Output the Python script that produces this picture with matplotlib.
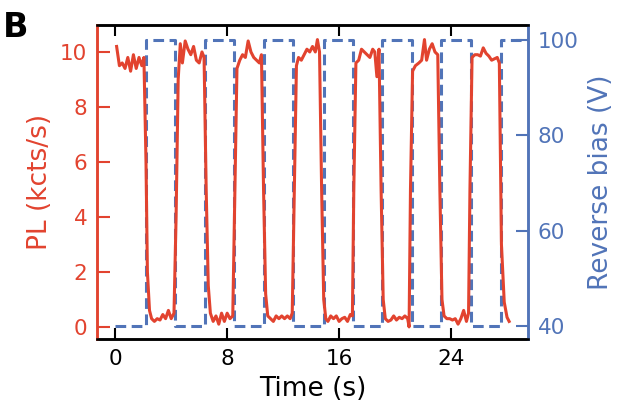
import matplotlib
matplotlib.use("Agg")
import matplotlib.pyplot as plt

RED = "#e2432f"
BLUE = "#5174b8"

# PL trace (kcts/s)
time_s = [
    0.1, 0.3, 0.5, 0.7, 0.9, 1.1, 1.3, 1.5, 1.7, 1.9, 2.05, 2.2, 2.3, 2.45, 2.6,
    2.8, 3.0, 3.2, 3.4, 3.6, 3.8, 4.0, 4.2, 4.35, 4.5, 4.65,
    4.8, 5.0, 5.2, 5.4, 5.6, 5.8, 6.0, 6.2, 6.35, 6.5, 6.65, 6.8,
    7.0, 7.2, 7.4, 7.6, 7.8, 8.0, 8.2, 8.4, 8.55, 8.7,
    8.9, 9.1, 9.3, 9.5, 9.7, 9.9, 10.1, 10.3, 10.45, 10.6, 10.75, 10.9,
    11.1, 11.3, 11.5, 11.7, 11.9, 12.1, 12.3, 12.5, 12.65, 12.8, 12.95,
    13.1, 13.3, 13.5, 13.7, 13.9, 14.1, 14.3, 14.45, 14.6, 14.75, 14.9, 15.05,
    15.2, 15.4, 15.6, 15.8, 16.0, 16.2, 16.4, 16.6, 16.8, 16.95, 17.05, 17.2,
    17.4, 17.6, 17.8, 18.0, 18.2, 18.4, 18.55, 18.7, 18.85, 19.0, 19.15, 19.3,
    19.5, 19.7, 19.9, 20.1, 20.3, 20.5, 20.7, 20.9, 21.0, 21.1, 21.25,
    21.45, 21.7, 21.9, 22.1, 22.25, 22.45, 22.65, 22.85, 23.05, 23.2, 23.35, 23.5,
    23.7, 23.9, 24.1, 24.3, 24.5, 24.7, 24.9, 25.1, 25.25, 25.35, 25.5,
    25.7, 25.9, 26.1, 26.3, 26.5, 26.7, 26.9, 27.1, 27.3, 27.45, 27.6, 27.8,
    28.0, 28.15,
]
pl_kcts = [
    10.2, 9.5, 9.6, 9.4, 9.8, 9.3, 9.9, 9.4, 9.8, 9.5, 9.8, 6.0, 2.0, 0.6, 0.3,
    0.2, 0.3, 0.25, 0.45, 0.3, 0.6, 0.3, 0.5, 4.0, 9.0, 10.3,
    9.6, 10.4, 10.1, 9.9, 10.2, 9.7, 9.6, 10.0, 9.8, 5.0, 1.5, 0.5,
    0.2, 0.4, 0.1, 0.5, 0.2, 0.5, 0.3, 0.4, 5.0, 9.4,
    9.7, 9.9, 9.8, 10.4, 10.0, 9.8, 9.7, 9.6, 9.9, 5.0, 1.2, 0.4,
    0.3, 0.2, 0.4, 0.3, 0.4, 0.3, 0.4, 0.3, 0.5, 5.0, 9.5,
    9.8, 9.7, 9.9, 10.1, 10.0, 10.2, 10.0, 10.45, 10.0, 5.0, 1.0, 0.3,
    0.2, 0.4, 0.3, 0.4, 0.2, 0.3, 0.35, 0.2, 0.45, 0.4, 5.0, 9.6,
    9.7, 10.1, 10.0, 9.9, 9.8, 10.1, 10.0, 9.1, 10.1, 5.0, 1.0, 0.3,
    0.2, 0.25, 0.4, 0.25, 0.35, 0.3, 0.4, 0.3, 0.0, 5.0, 9.3,
    9.5, 9.6, 9.7, 10.45, 9.7, 10.1, 10.3, 10.0, 9.9, 5.0, 1.0, 0.4,
    0.3, 0.3, 0.25, 0.3, 0.1, 0.3, 0.6, 0.2, 0.5, 5.0, 9.8,
    9.9, 9.9, 9.85, 10.15, 9.95, 9.85, 9.7, 9.75, 9.8, 9.6, 3.0, 0.9,
    0.35, 0.2,
]

# reverse bias square wave: switching times and level held after each
bias_t = [0.0, 2.2, 4.3, 6.4, 8.5, 10.6, 12.7, 14.9, 17.0, 19.1, 21.2, 23.3, 25.4, 27.6, 29.4]
bias_v = [40, 100, 40, 100, 40, 100, 40, 100, 40, 100, 40, 100, 40, 100, 100]

x_ticks = [0, 8, 16, 24]
pl_ticks = [0, 2, 4, 6, 8, 10]
bias_ticks = [40, 60, 80, 100]

fig = plt.figure(figsize=(6.28, 4.19), dpi=100)
ax = fig.add_axes([0.1545, 0.1909, 0.6863, 0.7494])
ax2 = ax.twinx()

ax2.plot(bias_t, bias_v, drawstyle="steps-post", color=BLUE, lw=2.2,
         dashes=(3.5, 1.8))
ax.plot(time_s, pl_kcts, color=RED, lw=2.2)

ax.set_zorder(ax2.get_zorder() + 1)
ax.patch.set_visible(False)

ax.set_xlim(-1.3, 29.5)
ax.set_ylim(-0.44, 10.98)
ax2.set_ylim(37.3, 103.1)

ax.set_xticks(x_ticks)
ax.set_yticks(pl_ticks)
ax2.set_yticks(bias_ticks)

ax.tick_params(axis="x", direction="in", length=8, width=1.5, top=True,
               labelsize=15.5, pad=7)
ax.tick_params(axis="y", direction="in", length=9, width=1.5, colors=RED,
               labelsize=15.5, pad=7)
ax2.tick_params(axis="y", direction="in", length=9, width=1.5, colors=BLUE,
                labelsize=15.5, pad=7)

for a in (ax, ax2):
    for s in a.spines.values():
        s.set_linewidth(1.8)
    a.spines["left"].set_color(RED)
    a.spines["right"].set_color(BLUE)

ax.set_xlabel("Time (s)", fontsize=19, labelpad=5)
ax.set_ylabel("PL (kcts/s)", fontsize=19, color=RED, labelpad=5)
ax2.set_ylabel("Reverse bias (V)", fontsize=19, color=BLUE, labelpad=7)

fig.text(0.005, 0.935, "B", fontsize=24, fontweight="bold", va="center")

fig.savefig("out.png", dpi=100)
